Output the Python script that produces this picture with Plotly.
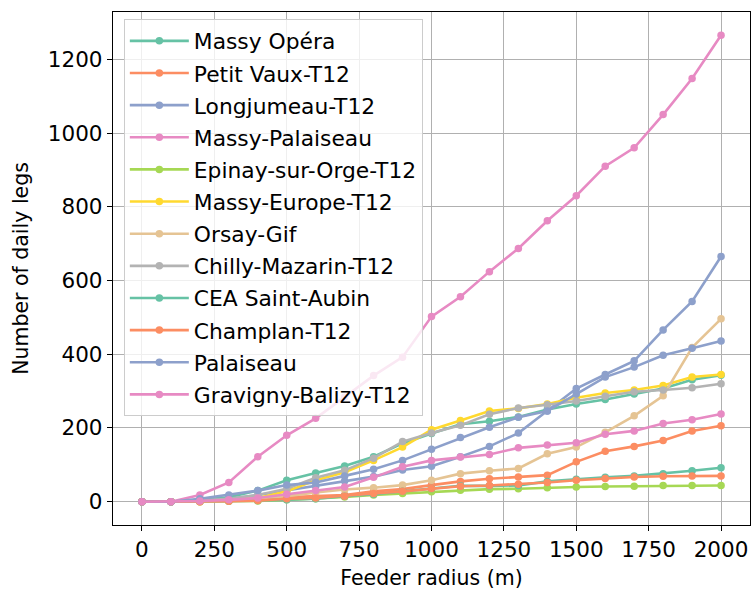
import plotly.graph_objects as go

radius = [0, 100, 200, 300, 400, 500, 600, 700, 800, 900, 1000,
          1100, 1200, 1300, 1400, 1500, 1600, 1700, 1800, 1900, 2000]

massy_opera = [0, 0, 5, 12, 30, 58, 78, 97, 122, 158, 185, 210, 218, 230, 250, 265, 277, 292, 307, 331, 343]
petit_vaux = [0, 0, 0, 2, 5, 12, 15, 18, 28, 34, 45, 55, 62, 67, 72, 108, 137, 150, 166, 192, 206]
longjumeau = [0, 0, 3, 8, 18, 30, 42, 56, 68, 86, 96, 122, 150, 186, 246, 307, 345, 382, 466, 543, 665]
massy_palaiseau = [0, 0, 18, 52, 122, 180, 226, 284, 342, 392, 502, 556, 624, 687, 762, 830, 910, 960, 1050, 1148, 1265]
epinay = [0, 0, 0, 1, 2, 5, 8, 13, 18, 22, 27, 31, 34, 35, 38, 40, 41, 42, 44, 44, 44]
massy_europe = [0, 0, 2, 5, 10, 28, 58, 80, 112, 148, 195, 220, 246, 253, 265, 282, 295, 303, 315, 338, 345]
orsay_gif = [0, 0, 1, 3, 8, 15, 25, 33, 38, 45, 58, 76, 84, 90, 130, 148, 188, 233, 287, 418, 496]
chilly = [0, 0, 3, 8, 18, 35, 65, 85, 118, 163, 186, 207, 237, 254, 263, 273, 286, 298, 303, 309, 320]
cea = [0, 0, 1, 2, 3, 5, 8, 15, 20, 28, 36, 43, 43, 44, 55, 61, 66, 70, 76, 84, 92]
champlan = [0, 0, 0, 1, 3, 8, 10, 15, 22, 28, 36, 42, 44, 47, 52, 58, 63, 67, 69, 70, 70]
palaiseau = [0, 0, 8, 18, 30, 45, 52, 70, 88, 112, 142, 174, 202, 229, 246, 292, 338, 365, 397, 416, 436]
gravigny = [0, 0, 2, 5, 10, 20, 30, 40, 66, 95, 112, 121, 128, 146, 154, 160, 183, 192, 212, 222, 238]

names = ["Massy Opéra", "Petit Vaux-T12", "Longjumeau-T12", "Massy-Palaiseau",
         "Epinay-sur-Orge-T12", "Massy-Europe-T12", "Orsay-Gif", "Chilly-Mazarin-T12",
         "CEA Saint-Aubin", "Champlan-T12", "Palaiseau", "Gravigny-Balizy-T12"]
series = [massy_opera, petit_vaux, longjumeau, massy_palaiseau, epinay, massy_europe,
          orsay_gif, chilly, cea, champlan, palaiseau, gravigny]
palette = ["#66c2a5", "#fc8d62", "#8da0cb", "#e78ac3", "#a6d854", "#ffd92f", "#e5c494", "#b3b3b3"]

FONT = "DejaVu Sans"
fig = go.Figure()
for i, (n, s) in enumerate(zip(names, series)):
    c = palette[i % len(palette)]
    fig.add_trace(go.Scatter(
        x=radius, y=s, name=n, mode="lines+markers",
        line=dict(color=c, width=2.6),
        marker=dict(color=c, size=7.5),
        legendgroup=n,
    ))

fig.update_layout(
    width=751, height=595,
    margin=dict(l=113, r=1, t=12, b=70),
    paper_bgcolor="white", plot_bgcolor="white",
    font=dict(family=FONT, size=21.5, color="black"),
    legend=dict(
        x=0.017, y=0.986, xanchor="left", yanchor="top",
        bgcolor="rgba(255,255,255,0.8)", bordercolor="#cccccc", borderwidth=1,
        font=dict(family=FONT, size=21.8, color="black"),
        tracegroupgap=0.8, itemwidth=59,
    ),
    showlegend=True,
)
fig.update_xaxes(
    range=[-100, 2100], tickmode="array", tickvals=[0, 250, 500, 750, 1000, 1250, 1500, 1750, 2000],
    showgrid=True, gridcolor="#b0b0b0", gridwidth=1.3,
    showline=True, linecolor="black", linewidth=1.3, mirror=True,
    ticks="outside", ticklen=5, tickwidth=1.3, tickcolor="black",
    zeroline=False, automargin=False,
    title=dict(text="Feeder radius (m)", font=dict(family=FONT, size=20.5), standoff=9),
)
fig.update_yaxes(
    range=[-63.25, 1328.25], tickmode="array", tickvals=[0, 200, 400, 600, 800, 1000, 1200],
    showgrid=True, gridcolor="#b0b0b0", gridwidth=1.3,
    showline=True, linecolor="black", linewidth=1.3, mirror=True,
    ticks="outside", ticklen=5, tickwidth=1.3, tickcolor="black",
    zeroline=False, automargin=False,
    title=dict(text="Number of daily legs", font=dict(family=FONT, size=20.5), standoff=13),
)
fig.write_html("out.html", config={"displayModeBar": False},
               post_script="document.body.style.margin='0';")
